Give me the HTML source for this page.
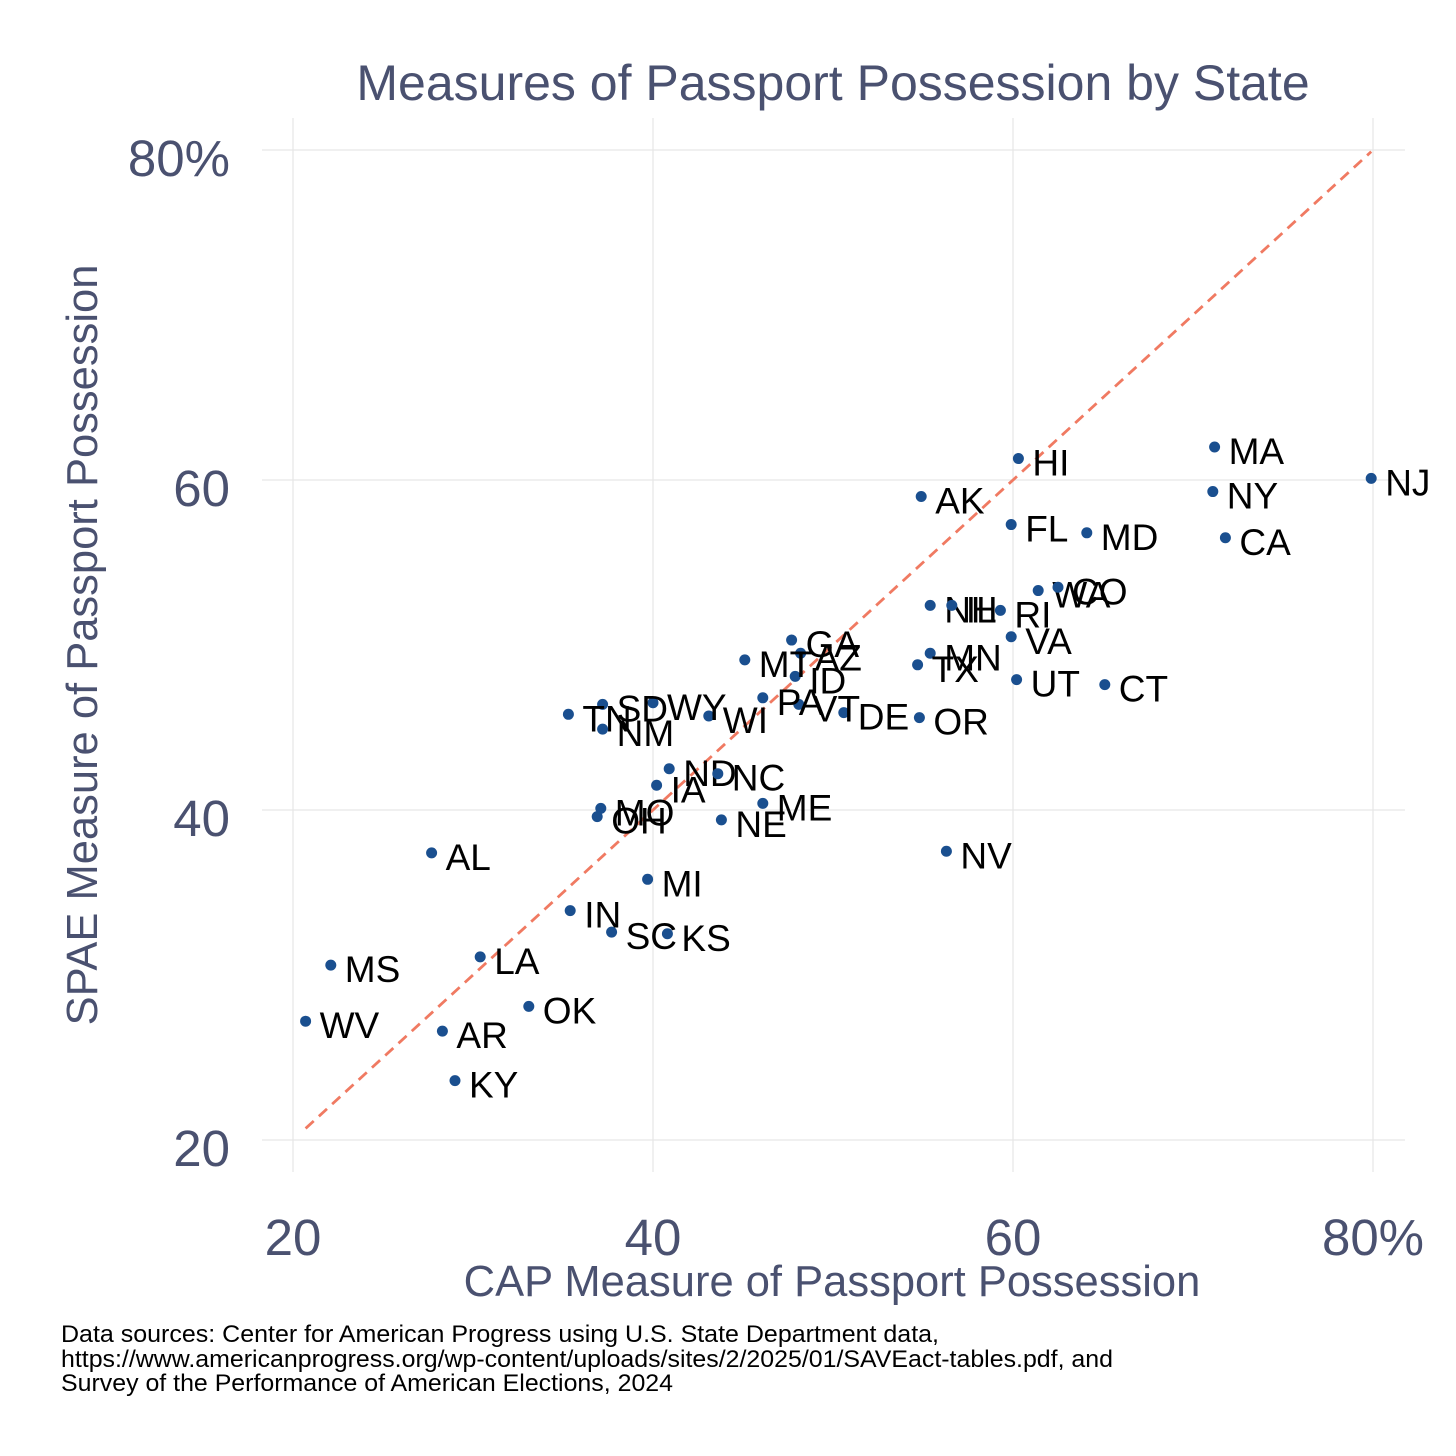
<!DOCTYPE html>
<html><head><meta charset="utf-8"><style>
html,body{margin:0;padding:0;background:#fff;}
svg{display:block;font-family:"Liberation Sans",Arial,sans-serif;}
</style></head><body>
<svg id="chart" width="1456" height="1456" viewBox="0 0 1456 1456">
<g id="grid"></g>
<g id="axes"></g>
<line id="diag" stroke="#f07a62" stroke-width="2.8" stroke-dasharray="11,7"/>
<g id="points"></g>
<text x="833" y="100" text-anchor="middle" font-size="50" fill="#4a5170">Measures of Passport Possession by State</text>
<text x="832" y="1296" text-anchor="middle" font-size="43.5" fill="#4a5170">CAP Measure of Passport Possession</text>
<text transform="translate(97,645) rotate(-90)" text-anchor="middle" font-size="43.5" fill="#4a5170">SPAE Measure of Passport Possession</text>
<g font-size="24" fill="#000">
<text x="61" y="1342" textLength="878" lengthAdjust="spacingAndGlyphs">Data sources: Center for American Progress using U.S. State Department data,</text>
<text x="61" y="1367" textLength="1052" lengthAdjust="spacingAndGlyphs">https://www.americanprogress.org/wp-content/uploads/sites/2/2025/01/SAVEact-tables.pdf, and</text>
<text x="61" y="1391" textLength="612" lengthAdjust="spacingAndGlyphs">Survey of the Performance of American Elections, 2024</text>
</g>
</svg>
<script>
const states=["NJ","MA","NY","CA","HI","AK","FL","MD","WA","CO","NH","IL","RI","VA","MN","TX","UT","CT","OR","NV","DE","VT","PA","ID","GA","AZ","MT","WI","WY","SD","TN","NM","ND","NC","IA","ME","MO","OH","NE","AL","MI","IN","SC","KS","MS","LA","OK","WV","AR","KY"];
const capValues=[79.9,71.2,71.1,71.8,60.3,54.9,59.9,64.1,61.4,62.5,55.4,56.6,59.3,59.9,55.4,54.7,60.2,65.1,54.8,56.3,50.6,48.1,46.1,47.9,47.7,48.2,45.1,43.1,40.0,37.2,35.3,37.2,40.9,43.6,40.2,46.1,37.1,36.9,43.8,27.7,39.7,35.4,37.7,40.8,22.1,30.4,33.1,20.7,28.3,29.0];
const spaeValues=[60.1,62.0,59.3,56.5,61.3,59.0,57.3,56.8,53.3,53.5,52.4,52.4,52.1,50.5,49.5,48.8,47.9,47.6,45.6,37.5,45.9,46.4,46.8,48.1,50.3,49.5,49.1,45.7,46.5,46.4,45.8,44.9,42.5,42.2,41.5,40.4,40.1,39.6,39.4,37.4,35.8,33.9,32.6,32.5,30.6,31.1,28.1,27.2,26.6,23.6];
const xTicks=[20,40,60,80];
const xTickLabels=["20","40","60","80%"];
const yTicks=[20,40,60,80];
const yTickLabels=["20","40","60","80%"];

const NS="http://www.w3.org/2000/svg";
const xs=v=>293+(v-20)*18;
const ys=v=>1140-(v-20)*16.5;
function mk(tag,attrs,parent){const e=document.createElementNS(NS,tag);for(const k in attrs)e.setAttribute(k,attrs[k]);parent.appendChild(e);return e;}
const grid=document.getElementById('grid'),axes=document.getElementById('axes'),pts=document.getElementById('points');
xTicks.forEach((t,i)=>{
  const l=mk('line',{x1:xs(t),x2:xs(t),y1:118,y2:1172,stroke:'#e6e6e6','stroke-width':1.2},grid);
  
  
  const tx=mk('text',{x:xs(t),y:1255,'text-anchor':'middle','font-size':51,fill:'#4a5170'},axes);
  tx.textContent=xTickLabels[i];
  
  
});
yTicks.forEach((t,i)=>{
  const l=mk('line',{x1:262,x2:1405,y1:ys(t),y2:ys(t),stroke:'#e6e6e6','stroke-width':1.2},grid);
  
  
  const tx=mk('text',{x:230,y:ys(t)+26,'text-anchor':'end','font-size':51,fill:'#4a5170'},axes);
  tx.textContent=yTickLabels[i];
  
  
});
const minV=Math.min(...capValues),maxV=Math.max(...capValues);
const d=document.getElementById('diag');
d.setAttribute('x1',xs(minV));d.setAttribute('y1',ys(minV));d.setAttribute('x2',xs(maxV));d.setAttribute('y2',ys(maxV));
states.forEach((s,i)=>{
  const cx=xs(capValues[i]),cy=ys(spaeValues[i]);
  const c=mk('circle',{cx:cx,cy:cy,r:5.5,fill:'#1a4f8f'},pts);
  
  
  const t=mk('text',{x:cx+14,y:cy+17,'font-size':37,fill:'#000'},pts);
  t.textContent=s;
  
  
});
</script>
</body></html>
